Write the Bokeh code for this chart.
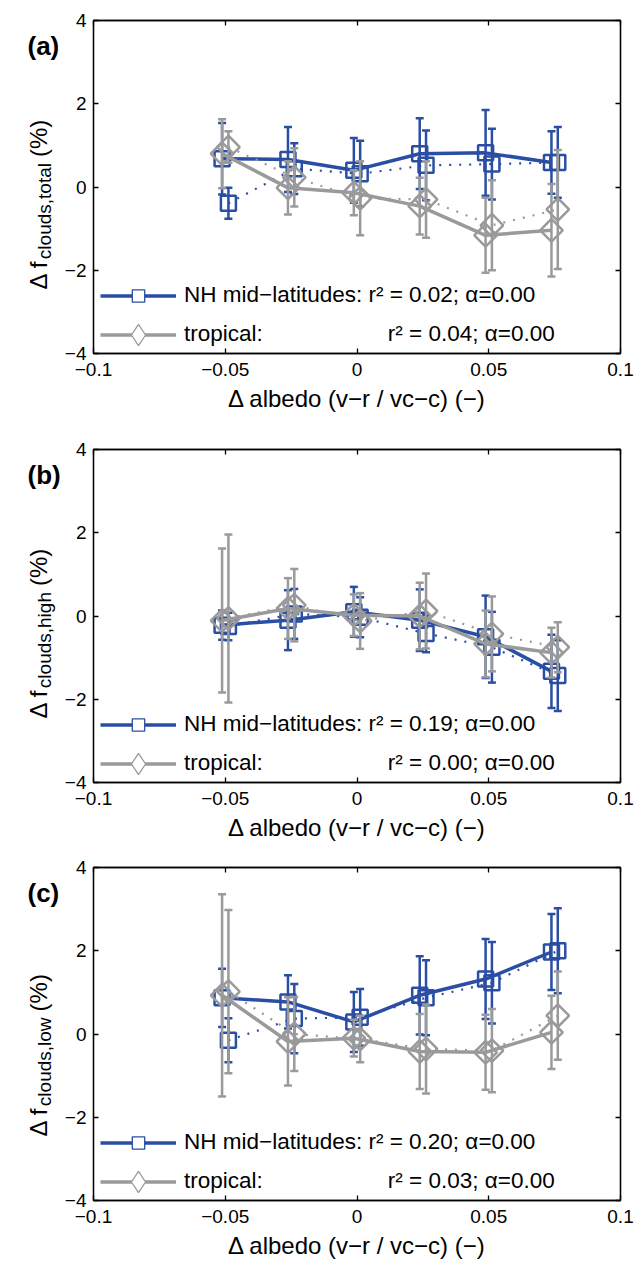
import math
from bokeh.plotting import figure
from bokeh.models import (Range1d, LinearAxis, FixedTicker, CustomJSTickFormatter,
                          Legend, LegendItem, ColumnDataSource)
from bokeh.core.properties import value
from bokeh.layouts import column, row
from bokeh.embed import file_html
from bokeh.resources import INLINE

# ---------------- data ----------------
X_SOLID = [-0.0512, -0.0262, -0.0012, 0.0238, 0.0488, 0.0738]
X_DOTTED = [-0.0488, -0.0238, 0.0012, 0.0262, 0.0512, 0.0762]
X_TICKS = [-0.1, -0.05, 0, 0.05, 0.1]
X_TICK_LABELS = ["−0.1", "−0.05", "0", "0.05", "0.1"]
Y_TICKS = [-4, -2, 0, 2, 4]
Y_TICK_LABELS = ["−4", "−2", "0", "2", "4"]

PANEL_TAGS = ["(a)", "(b)", "(c)"]
SUBSCRIPTS = ["clouds,total", "clouds,high", "clouds,low"]
R2_NH = ["0.02", "0.19", "0.20"]
R2_TR = ["0.04", "0.00", "0.03"]
ALPHA_NH = ["0.00", "0.00", "0.00"]
ALPHA_TR = ["0.00", "0.00", "0.00"]

# panel (a) total
A_NH_SOLID = [0.68, 0.66, 0.40, 0.80, 0.82, 0.59]
A_NH_SOLID_ERR = [0.86, 0.78, 0.78, 0.85, 1.03, 0.75]
A_NH_DOT = [-0.39, 0.44, 0.32, 0.52, 0.55, 0.59]
A_NH_DOT_ERR = [0.37, 0.61, 0.79, 0.84, 0.85, 0.85]
A_TR_SOLID = [0.80, -0.02, -0.14, -0.46, -1.16, -1.04]
A_TR_SOLID_ERR = [0.83, 0.64, 0.54, 0.68, 0.90, 1.11]
A_TR_DOT = [0.96, 0.23, -0.27, -0.30, -0.92, -0.54]
A_TR_DOT_ERR = [0.38, 0.70, 0.89, 0.92, 1.08, 1.43]

# panel (b) high
B_NH_SOLID = [-0.22, -0.10, 0.10, -0.10, -0.50, -1.33]
B_NH_SOLID_ERR = [0.35, 0.72, 0.60, 0.74, 0.99, 0.88]
B_NH_DOT = [-0.25, 0.05, -0.03, -0.42, -0.75, -1.43]
B_NH_DOT_ERR = [0.33, 0.60, 0.48, 0.45, 0.85, 0.85]
B_TR_SOLID = [-0.11, 0.18, 0.02, 0.00, -0.67, -0.88]
B_TR_SOLID_ERR = [1.73, 0.73, 0.50, 0.80, 0.80, 0.60]
B_TR_DOT = [-0.06, 0.26, -0.12, 0.12, -0.43, -0.75]
B_TR_DOT_ERR = [2.02, 0.87, 0.67, 0.90, 0.90, 0.60]

# panel (c) low
C_NH_SOLID = [0.87, 0.77, 0.29, 0.93, 1.32, 1.97]
C_NH_SOLID_ERR = [0.70, 0.64, 0.72, 0.94, 0.96, 0.91]
C_NH_DOT = [-0.15, 0.37, 0.40, 0.87, 1.23, 2.00]
C_NH_DOT_ERR = [0.53, 0.83, 0.68, 0.90, 0.98, 1.02]
C_TR_SOLID = [0.93, -0.18, -0.10, -0.42, -0.44, 0.04]
C_TR_SOLID_ERR = [2.43, 1.06, 0.44, 0.90, 0.90, 0.88]
C_TR_DOT = [1.02, 0.00, -0.12, -0.36, -0.40, 0.44]
C_TR_DOT_ERR = [1.96, 0.89, 0.56, 1.07, 1.00, 1.06]

PANEL_DATA = [
    (A_NH_SOLID, A_NH_SOLID_ERR, A_NH_DOT, A_NH_DOT_ERR, A_TR_SOLID, A_TR_SOLID_ERR, A_TR_DOT, A_TR_DOT_ERR),
    (B_NH_SOLID, B_NH_SOLID_ERR, B_NH_DOT, B_NH_DOT_ERR, B_TR_SOLID, B_TR_SOLID_ERR, B_TR_DOT, B_TR_DOT_ERR),
    (C_NH_SOLID, C_NH_SOLID_ERR, C_NH_DOT, C_NH_DOT_ERR, C_TR_SOLID, C_TR_SOLID_ERR, C_TR_DOT, C_TR_DOT_ERR),
]

# ---------------- style ----------------
BLUE = "#2a4ea4"
GRAY = "#9a9a9a"
FONT = "Liberation Sans"
FW, FH = 527, 333
LEFT_W = 61          # width of the label strip left of each panel
BORDERS = [(20, 76), (20, 65), (20, 55)]   # (top, bottom) per panel
NBSP = "\u00a0"

CHAR_W = {"c": .5, "l": .222, "o": .556, "u": .556, "d": .556, "s": .5, ",": .278,
          "t": .278, "a": .556, "h": .556, "i": .222, "g": .556, "w": .722}


def fmt(tick_values, tick_labels):
    return CustomJSTickFormatter(args=dict(tv=tick_values, tl=tick_labels),
                                 code="const i = tv.indexOf(tick); return i >= 0 ? tl[i] : '';")


def blank():
    return CustomJSTickFormatter(code="return '';")


def style_axis(ax, ticker, formatter, size="19px"):
    ax.ticker = ticker
    ax.formatter = formatter
    ax.major_tick_in = 5
    ax.major_tick_out = 0
    ax.minor_tick_in = 0
    ax.minor_tick_out = 0
    ax.axis_line_color = "black"
    ax.axis_line_width = 1.3
    ax.major_tick_line_color = "black"
    ax.major_tick_line_width = 1.3
    ax.major_label_text_font = FONT
    ax.major_label_text_font_size = size
    ax.major_label_text_color = "black"


def series(p, xs, ys, errs, color, dotted, diamond):
    lo = [y - e for y, e in zip(ys, errs)]
    hi = [y + e for y, e in zip(ys, errs)]
    src = ColumnDataSource(dict(x=xs, y=ys, lo=lo, hi=hi))
    p.segment(x0="x", y0="lo", x1="x", y1="hi", source=src, line_color=color, line_width=2.5)
    p.scatter(x="x", y="hi", source=src, marker="dash", size=8, line_color=color, line_width=2.5)
    p.scatter(x="x", y="lo", source=src, marker="dash", size=8, line_color=color, line_width=2.5)
    if dotted:
        p.line(x="x", y="y", source=src, line_color=color, line_width=2.2, line_dash="2 8")
    else:
        p.line(x="x", y="y", source=src, line_color=color, line_width=3.5)
    if diamond:
        p.scatter(x="x", y="y", source=src, marker="square", angle=math.pi / 4, size=16,
                  fill_color=None, line_color=color, line_width=2.5)
    else:
        p.scatter(x="x", y="y", source=src, marker="square", size=15,
                  fill_color=None, line_color=color, line_width=2.5)


def make_label_strip(i, height, frame_top):
    s = figure(frame_width=LEFT_W, frame_height=height, min_border=0, title=None,
               x_range=Range1d(0, LEFT_W), y_range=Range1d(0, height),
               output_backend="svg", toolbar_location=None,
               x_axis_type=None, y_axis_type=None, outline_line_color=None,
               background_fill_color="white", border_fill_color="white")
    s.grid.visible = False

    def yy(off):   # pixel offset below the frame top -> strip coordinate
        return height - (frame_top + off)

    # panel tag
    s.text(x=[27], y=[yy(5)], text=[PANEL_TAGS[i]], text_font=value(FONT),
           text_font_size="26px", text_font_style="bold", text_align="left",
           text_baseline="alphabetic", text_color="black")
    # y label  Δ f_{sub} (%)
    start = 249
    s.text(x=[38], y=[yy(start)], text=["Δ f"], angle=math.pi / 2, text_font=value(FONT),
           text_font_size="24px", text_align="left", text_baseline="alphabetic",
           text_color="black")
    sub_start = start - 1.223 * 24 - 1
    s.text(x=[44], y=[yy(sub_start)], text=[SUBSCRIPTS[i]], angle=math.pi / 2,
           text_font=value(FONT), text_font_size="19px", text_align="left",
           text_baseline="alphabetic", text_color="black")
    sub_w = sum(CHAR_W.get(ch, .556) for ch in SUBSCRIPTS[i]) * 19
    pct_start = sub_start - sub_w - 6
    s.text(x=[38], y=[yy(pct_start)], text=["(%)"], angle=math.pi / 2,
           text_font=value(FONT), text_font_size="24px", text_align="left",
           text_baseline="alphabetic", text_color="black")
    return s


def make_legend(label, line_r, marker_r, glyph_h, center_from_bottom):
    return Legend(items=[LegendItem(label=label, renderers=[line_r, marker_r])],
                  location=(7, center_from_bottom - glyph_h / 2.0),
                  glyph_width=76, glyph_height=glyph_h, label_height=22,
                  label_standoff=8, spacing=0, padding=0, margin=0,
                  background_fill_alpha=0, border_line_alpha=0,
                  label_text_font=FONT, label_text_font_size="22.5px",
                  label_text_color="black")


def make_panel(i):
    top, bottom = BORDERS[i]
    p = figure(frame_width=FW, frame_height=FH, min_border_left=93 - LEFT_W, min_border_right=14,
               min_border_top=top, min_border_bottom=bottom,
               x_range=Range1d(-0.1, 0.1), y_range=Range1d(-4, 4),
               output_backend="svg", toolbar_location=None,
               background_fill_color="white", border_fill_color="white",
               outline_line_color="black", outline_line_width=1.3)
    p.grid.visible = False

    style_axis(p.xaxis[0], FixedTicker(ticks=X_TICKS), fmt(X_TICKS, X_TICK_LABELS))
    p.xaxis[0].major_label_standoff = 9
    p.xaxis[0].axis_label = "Δ albedo (v−r / vc−c) (−)"
    p.xaxis[0].axis_label_text_font = FONT
    p.xaxis[0].axis_label_text_font_size = "24px"
    p.xaxis[0].axis_label_text_font_style = "normal"
    p.xaxis[0].axis_label_text_color = "black"
    p.xaxis[0].axis_label_standoff = 6

    style_axis(p.yaxis[0], FixedTicker(ticks=Y_TICKS), fmt(Y_TICKS, Y_TICK_LABELS))
    p.yaxis[0].major_label_standoff = 7

    top_ax = LinearAxis()
    style_axis(top_ax, FixedTicker(ticks=X_TICKS), blank(), "0px")
    top_ax.major_label_standoff = 0
    p.add_layout(top_ax, "above")
    right_ax = LinearAxis()
    style_axis(right_ax, FixedTicker(ticks=Y_TICKS), blank(), "0px")
    right_ax.major_label_standoff = 0
    p.add_layout(right_ax, "right")

    (nh_s, nh_se, nh_d, nh_de, tr_s, tr_se, tr_d, tr_de) = PANEL_DATA[i]
    series(p, X_DOTTED, nh_d, nh_de, BLUE, True, False)
    series(p, X_SOLID, nh_s, nh_se, BLUE, False, False)
    series(p, X_DOTTED, tr_d, tr_de, GRAY, True, True)
    series(p, X_SOLID, tr_s, tr_se, GRAY, False, True)

    # legend proxies (legend markers are 0.4 x glyph height)
    nan = float("nan")
    l_nh = p.line(x=[nan], y=[nan], line_color=BLUE, line_width=3.5)
    m_nh = p.scatter(x=[nan], y=[nan], marker="square", line_color=BLUE,
                     line_width=1.3, fill_color="white")
    l_tr = p.line(x=[nan], y=[nan], line_color=GRAY, line_width=3.5)
    m_tr = p.scatter(x=[nan], y=[nan], marker="diamond", line_color=GRAY,
                     line_width=1.3, fill_color="white")
    lab_nh = "NH mid−latitudes: r² = %s; α=%s" % (R2_NH[i], ALPHA_NH[i])
    lab_tr = "tropical:" + NBSP * 20 + "r² = %s; α=%s" % (R2_TR[i], ALPHA_TR[i])
    p.add_layout(make_legend(lab_nh, l_nh, m_nh, 31, 58))
    p.add_layout(make_legend(lab_tr, l_tr, m_tr, 53, 19))

    height = top + FH + bottom
    strip = make_label_strip(i, height, top)
    return row(strip, p)


rows = [make_panel(i) for i in range(3)]
layout = column(*rows)
open("out.html", "w").write(file_html(layout, INLINE))
